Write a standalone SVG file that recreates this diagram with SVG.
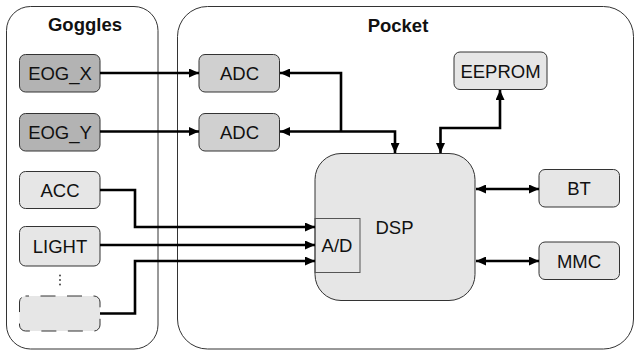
<svg xmlns="http://www.w3.org/2000/svg" width="636" height="352" viewBox="0 0 636 352">
<style>
.cont{fill:#fff;stroke:#333;stroke-width:1}
.box{stroke:#333;stroke-width:1}
.lt{fill:#e6e6e6}
.md{fill:#d0d0d0}
.dk{fill:#b3b3b3}
.t{font-family:"Liberation Sans",Arial,sans-serif;font-size:18.5px;fill:#111;text-anchor:middle}
.tb{font-weight:bold}
.c{fill:none;stroke:#000;stroke-width:2.6}
</style>
<defs>
<marker id="ah" viewBox="0 0 10 9" refX="10" refY="4.5" markerWidth="10" markerHeight="9" markerUnits="userSpaceOnUse" orient="auto-start-reverse">
<path d="M0,0 L10,4.5 L0,9 z" fill="#000"/>
</marker>
</defs>
<g id="goggles">
<rect class="cont" x="6.5" y="6.5" width="151.5" height="342.5" rx="24"/>
<text class="t tb" x="85" y="31">Goggles</text>
</g>
<g id="pocket">
<rect class="cont" x="177.5" y="6.5" width="456" height="342.5" rx="30"/>
<text class="t tb" x="398" y="31.5">Pocket</text>
</g>
<g id="eog_x">
<rect class="box dk" x="19.5" y="54.5" width="80.5" height="37.5" rx="6"/>
<text class="t" x="60" y="80">EOG_X</text>
</g>
<g id="eog_y">
<rect class="box dk" x="19.5" y="113.5" width="80.5" height="37.5" rx="6"/>
<text class="t" x="60" y="139">EOG_Y</text>
</g>
<g id="acc">
<rect class="box lt" x="19.5" y="171.5" width="80.5" height="37" rx="6"/>
<text class="t" x="60" y="196.5">ACC</text>
</g>
<g id="light">
<rect class="box lt" x="19.5" y="226.5" width="80.5" height="39.5" rx="6"/>
<text class="t" x="60" y="252.5">LIGHT</text>
</g>
<g id="ellipsis">
<circle cx="60" cy="275.5" r="0.9" fill="#333"/>
<circle cx="60" cy="280" r="0.9" fill="#333"/>
<circle cx="60" cy="284.5" r="0.9" fill="#333"/>
</g>
<g id="other">
<rect class="lt" x="19.5" y="296" width="80.5" height="35" rx="6" stroke="#333" stroke-width="1" stroke-dasharray="15,11.5" stroke-dashoffset="11.5"/>
</g>
<g id="adc1">
<rect class="box md" x="199" y="54.5" width="80.5" height="37.5" rx="6"/>
<text class="t" x="239.5" y="80">ADC</text>
</g>
<g id="adc2">
<rect class="box md" x="199" y="113.5" width="80.5" height="37.5" rx="6"/>
<text class="t" x="239.5" y="139">ADC</text>
</g>
<g id="eeprom">
<rect class="box lt" x="454" y="52" width="93" height="37.5" rx="6"/>
<text class="t" x="500.5" y="77.5">EEPROM</text>
</g>
<g id="dsp">
<rect class="box lt" x="315" y="153.5" width="160" height="147" rx="26"/>
<text class="t" x="394.5" y="234">DSP</text>
<rect x="315" y="218.5" width="45" height="54" fill="none" stroke="#555" stroke-width="1"/>
<text class="t" x="337" y="252">A/D</text>
</g>
<g id="bt">
<rect class="box lt" x="539" y="169.5" width="80.5" height="37.5" rx="6"/>
<text class="t" x="579" y="195">BT</text>
</g>
<g id="mmc">
<rect class="box lt" x="539" y="242" width="80.5" height="37.5" rx="6"/>
<text class="t" x="579" y="267.5">MMC</text>
</g>
<g id="connectors">
<path class="c" d="M100,73 H199" marker-end="url(#ah)"/>
<path class="c" d="M100,131.5 H199" marker-end="url(#ah)"/>
<path class="c" d="M341,131.5 V73 H280" marker-end="url(#ah)"/>
<path class="c" d="M280,131.5 H395 V153" marker-start="url(#ah)" marker-end="url(#ah)"/>
<path class="c" d="M440.5,153 V128 H500 V90" marker-start="url(#ah)" marker-end="url(#ah)"/>
<path class="c" d="M476,189 H539" marker-start="url(#ah)" marker-end="url(#ah)"/>
<path class="c" d="M476,261 H539" marker-start="url(#ah)" marker-end="url(#ah)"/>
<path class="c" d="M100,190 H135 V227 H315" marker-end="url(#ah)"/>
<path class="c" d="M100,245 H315" marker-end="url(#ah)"/>
<path class="c" d="M100,313.5 H135 V261 H315" marker-end="url(#ah)"/>
</g>
</svg>
